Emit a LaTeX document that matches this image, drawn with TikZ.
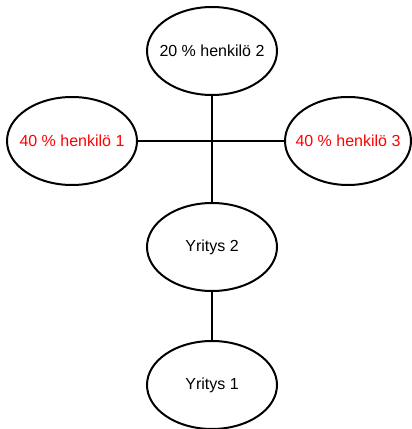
\documentclass[tikz,border=0pt]{standalone}
\usepackage{fontspec}
\setmainfont{Liberation Sans}
\usetikzlibrary{shapes.geometric}
\newcommand{\zerow}[1]{\makebox[0pt][c]{#1}}
\begin{document}
\begin{tikzpicture}[x=1pt,y=1pt,
  oval/.style={ellipse,draw=black,line width=2pt,minimum width=130pt,minimum height=88pt,inner sep=0pt,font=\fontsize{16}{19}\selectfont},
  link/.style={draw=black,line width=1.2pt},
  redtext/.style={text=red}]
\useasboundingbox (0,0) rectangle (412,429);
\node[oval] (top) at (212,378) {\zerow{20 \% henkilö 2}};
\node[oval,redtext] (left) at (72,288) {\zerow{40 \% henkilö 1}};
\node[oval,redtext,minimum width=126pt] (right) at (348,288) {\zerow{40 \% henkilö 3}};
\node[oval] (mid) at (212,182) {\zerow{Yritys 2}};
\node[oval] (bot) at (212,44) {\zerow{Yritys 1}};
\draw[link] (top) -- (mid);
\draw[link] (left) -- (right);
\draw[link] (mid) -- (bot);
\end{tikzpicture}
\end{document}
